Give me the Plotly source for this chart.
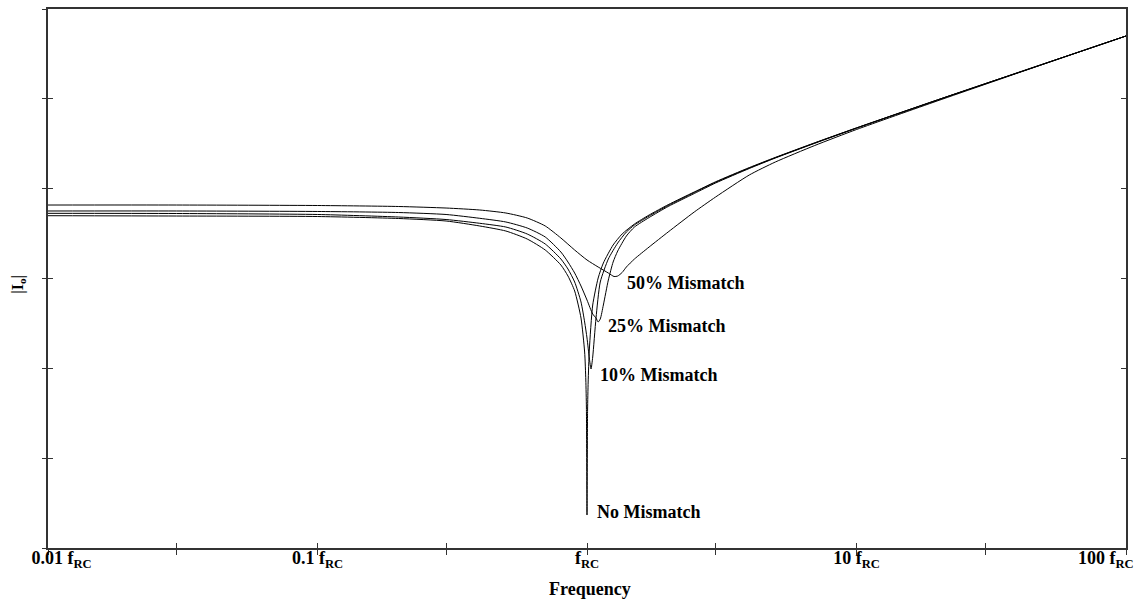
import math
import plotly.graph_objects as go

# Frequency points (in units of f_RC) and |Io| magnitude (dB) for each mismatch case
freq_none = [0.01, 0.03, 0.1, 0.2, 0.3, 0.4, 0.5, 0.6, 0.7, 0.8, 0.85, 0.9, 0.95, 0.98, 0.99,
             0.995, 1.0, 1.005, 1.01, 1.02, 1.05, 1.1, 1.15, 1.25, 1.35, 1.5, 1.7, 2.0, 2.5,
             3, 4, 5, 7, 10, 20, 50, 100]
io_db_none = [13.98, 13.91, 13.80, 13.36, 12.80, 11.69, 10.57, 8.79, 6.34, 3.00, 0.55, -2.78,
              -8.80, -16.37, -22.60, -28.83, -52.66, -29.28, -23.04, -15.92, -5.90, 0.11, 3.45,
              7.46, 9.91, 12.13, 14.14, 16.43, 19.26, 21.53, 24.69, 26.96, 30.21, 33.53,
              39.78, 47.87, 53.99]

freq_10 = [0.01, 0.03, 0.1, 0.2, 0.3, 0.4, 0.5, 0.6, 0.7, 0.8, 0.85, 0.9, 0.95, 0.98, 1.0,
           1.02, 1.035, 1.05, 1.08, 1.12, 1.2, 1.3, 1.4, 1.5, 1.7, 2.0, 2.5, 3, 4, 5, 7, 10,
           20, 50, 100]
io_db_10 = [14.51, 14.47, 14.25, 13.69, 13.13, 12.29, 11.46, 9.91, 7.68, 4.34, 2.11, -0.78,
            -5.23, -9.69, -13.25, -17.70, -20.15, -17.48, -8.80, -0.78, 4.34, 7.90, 10.35,
            11.91, 13.91, 16.25, 19.15, 21.42, 24.60, 26.89, 30.17, 33.51, 39.76, 47.87, 53.99]

freq_25 = [0.01, 0.03, 0.1, 0.2, 0.3, 0.4, 0.5, 0.6, 0.7, 0.8, 0.85, 0.9, 0.95, 1.0, 1.05,
           1.08, 1.1, 1.12, 1.15, 1.2, 1.25, 1.3, 1.4, 1.5, 1.7, 2.0, 2.5, 3, 4, 5, 7, 10,
           20, 50, 100]
io_db_25 = [15.03, 15.03, 14.92, 14.69, 14.25, 13.40, 12.58, 11.24, 9.24, 5.90, 3.67, 1.22,
            -1.67, -4.79, -7.91, -8.80, -9.69, -9.02, -5.90, -0.34, 3.67, 6.12, 9.46, 11.46,
            13.58, 16.03, 18.92, 21.26, 24.49, 26.83, 30.10, 33.46, 39.74, 47.84, 53.99]

freq_50 = [0.01, 0.03, 0.1, 0.2, 0.3, 0.4, 0.5, 0.6, 0.7, 0.8, 0.9, 1.0, 1.1, 1.2, 1.26,
           1.3, 1.35, 1.4, 1.5, 1.7, 2.0, 2.5, 3, 4, 5, 7, 10, 20, 50, 100]
io_db_50 = [16.36, 16.36, 16.25, 16.03, 15.69, 15.25, 14.58, 13.47, 11.69, 9.02, 6.34, 4.12,
            2.56, 1.22, 0.44, 0.55, 1.33, 2.56, 4.34, 7.01, 10.35, 14.80, 18.14, 23.04, 25.94,
            29.61, 33.17, 39.56, 47.82, 53.99]

# Curve labels: text, anchor frequency (f_RC units) and level (dB)
label_text = ["50% Mismatch", "25% Mismatch", "10% Mismatch", "No Mismatch"]
label_freq = [1.383, 1.176, 1.098, 1.071]
label_db = [-1.0, -10.6, -21.5, -52.0]

# Axis ticks
x_tickvals = [0.01, 0.03, 0.1, 0.3, 1, 3, 10, 30, 100]
x_ticklabels = ["0.01 f<sub>RC</sub>", "", "0.1 f<sub>RC</sub>", "", "f<sub>RC</sub>", "",
                "10 f<sub>RC</sub>", "", "100 f<sub>RC</sub>"]
y_tickvals = [-60, -40, -20, 0, 20, 40, 60]

# End labels are padded so they sit inside the frame
NB = "\u00a0"
ticktext = []
for i, t in enumerate(x_ticklabels):
    if not t:
        ticktext.append("")
        continue
    s = "<b>" + t + "</b>"
    if i == 0:
        s = NB * 6 + s
    elif i == len(x_ticklabels) - 1:
        s = s + NB * 9
    ticktext.append(s)

SERIF = "Liberation Serif, Times New Roman, serif"
AXIS_COLOR = "#333333"

fig = go.Figure()
line_style = dict(color="black", width=1, shape="spline", smoothing=0.6)

fig.add_trace(go.Scatter(x=freq_50, y=io_db_50, mode="lines", line=line_style,
                         name="50% Mismatch", showlegend=False))
fig.add_trace(go.Scatter(x=freq_25, y=io_db_25, mode="lines", line=line_style,
                         name="25% Mismatch", showlegend=False))
fig.add_trace(go.Scatter(x=freq_10, y=io_db_10, mode="lines", line=line_style,
                         name="10% Mismatch", showlegend=False))
# Drawn on the overlay axes so the outward/inward tick sets both render
fig.add_trace(go.Scatter(x=freq_none, y=io_db_none, mode="lines", line=line_style,
                         xaxis="x2", yaxis="y2", name="No Mismatch", showlegend=False))

for txt, f, db in zip(label_text, label_freq, label_db):
    fig.add_annotation(x=math.log10(f), y=db, xref="x", yref="y",
                       text="<b>" + txt + "</b>", showarrow=False,
                       xanchor="left", yanchor="middle",
                       font=dict(family=SERIF, size=18, color="black"))

fig.add_annotation(x=0.503, y=-0.076, xref="paper", yref="paper", text="<b>Frequency</b>",
                   showarrow=False, xanchor="center", yanchor="middle",
                   font=dict(family=SERIF, size=18, color="black"))
fig.add_annotation(x=-0.027, y=0.49, xref="paper", yref="paper",
                   text="<b>|I<sub>o</sub>|</b>", showarrow=False, textangle=-90,
                   xanchor="center", yanchor="middle",
                   font=dict(family=SERIF, size=16, color="black"))

common_x = dict(type="log", range=[-2, 2], tickmode="array", tickvals=x_tickvals,
                showgrid=False, zeroline=False, ticklen=5, tickwidth=1,
                tickcolor=AXIS_COLOR, automargin=False)
common_y = dict(range=[-60, 60], tickmode="array", tickvals=y_tickvals, showgrid=False,
                zeroline=False, ticklen=5, tickwidth=1, tickcolor=AXIS_COLOR,
                showticklabels=False, automargin=False)

fig.update_layout(
    width=1138, height=600,
    margin=dict(l=48, r=12, t=9, b=52, autoexpand=False),
    paper_bgcolor="white", plot_bgcolor="white",
    xaxis=dict(**common_x, ticks="outside", ticktext=ticktext, showline=True,
               linecolor=AXIS_COLOR, linewidth=1.5, mirror=True,
               ticklabeloverflow="allow", ticklabelstandoff=-12,
               tickfont=dict(family=SERIF, size=18, color="black")),
    yaxis=dict(**common_y, ticks="inside", showline=True, linecolor=AXIS_COLOR,
               linewidth=1.5, mirror="ticks"),
    xaxis2=dict(**common_x, ticks="inside", overlaying="x", anchor="y2", side="bottom",
                showticklabels=False, showline=False),
    yaxis2=dict(**common_y, ticks="outside", overlaying="y", anchor="x2", side="left",
                showline=False),
)

fig.write_html("out.html")
